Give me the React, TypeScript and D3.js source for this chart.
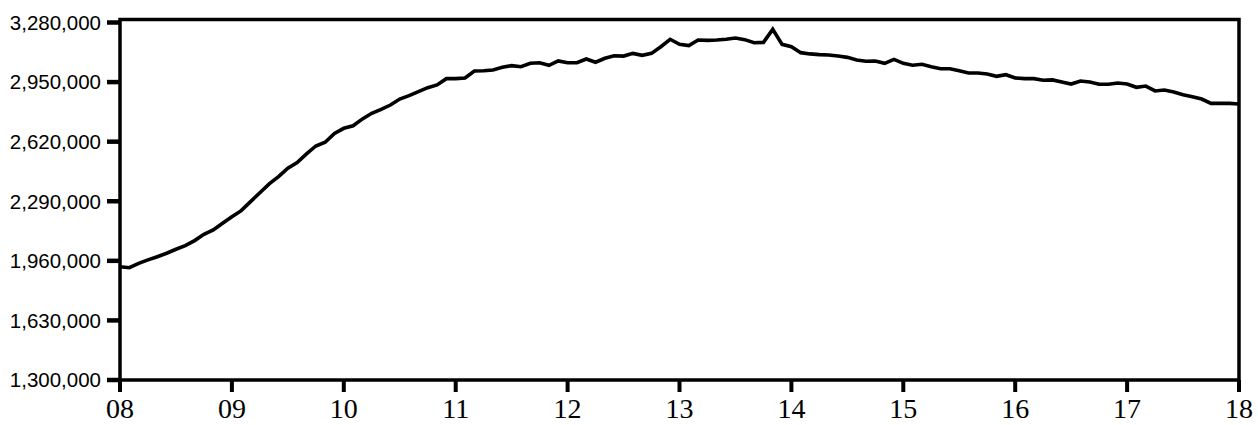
import React from "react";
import * as d3 from "d3";

// Values sampled every 5 minutes from 08:00 to 18:00
const values: number[] = [
  1927000, 1922000, 1946000, 1965000, 1983000, 2002000, 2024000, 2044000, 2072000, 2107000,
  2131000, 2168000, 2204000, 2238000, 2288000, 2337000, 2386000, 2426000, 2473000, 2504000,
  2552000, 2596000, 2617000, 2666000, 2694000, 2708000, 2746000, 2777000, 2799000, 2823000,
  2856000, 2875000, 2897000, 2919000, 2934000, 2969000, 2969000, 2973000, 3011000, 3013000,
  3017000, 3032000, 3041000, 3035000, 3054000, 3057000, 3043000, 3067000, 3057000, 3057000,
  3078000, 3060000, 3082000, 3096000, 3094000, 3109000, 3098000, 3109000, 3146000, 3187000,
  3159000, 3152000, 3183000, 3181000, 3183000, 3187000, 3194000, 3185000, 3168000, 3170000,
  3242000, 3159000, 3146000, 3113000, 3106000, 3102000, 3100000, 3094000, 3087000, 3072000,
  3065000, 3067000, 3054000, 3076000, 3054000, 3043000, 3049000, 3035000, 3024000, 3024000,
  3013000, 3000000, 3000000, 2995000, 2982000, 2991000, 2973000, 2969000, 2969000, 2960000,
  2962000, 2950000, 2939000, 2956000, 2950000, 2938000, 2938000, 2945000, 2939000, 2921000,
  2928000, 2901000, 2906000, 2895000, 2880000, 2869000, 2856000, 2832000, 2832000, 2832000,
  2829000,
];

const stepMinutes = 5;
const xTickLabels = ["08", "09", "10", "11", "12", "13", "14", "15", "16", "17", "18"];
const yTicks = [1300000, 1630000, 1960000, 2290000, 2620000, 2950000, 3280000];

const W = 1258;
const H = 425;
const left = 120;
const right = 1239;
const top = 19.5;
const bottom = 380;

export default function App() {
  const x = d3.scaleLinear().domain([0, 600]).range([left, right]);
  const y = d3.scaleLinear().domain([1300000, 3280000]).range([bottom, 22.5]);
  const fmt = d3.format(",");

  const line = d3
    .line<number>()
    .x((_, i) => x(i * stepMinutes))
    .y((d) => y(d));

  return (
    <div style={{ position: "absolute", left: 0, top: 0 }}>
      <svg width={W} height={H} style={{ display: "block", background: "#fff" }}>
        <path d={line(values) || ""} fill="none" stroke="#000" strokeWidth={3.6} strokeLinejoin="miter" />
        <rect
          x={left}
          y={top}
          width={right - left}
          height={bottom - top}
          fill="none"
          stroke="#000"
          strokeWidth={3.5}
        />
        {yTicks.map((t) => (
          <g key={t}>
            <line x1={107} x2={left} y1={y(t)} y2={y(t)} stroke="#000" strokeWidth={4.5} />
            <text
              x={101}
              y={y(t)}
              dy="0.36em"
              textAnchor="end"
              fontFamily="'Liberation Sans', Arial, sans-serif"
              fontSize={20.5}
              fill="#000"
            >
              {fmt(t)}
            </text>
          </g>
        ))}
        {xTickLabels.map((lab, i) => (
          <g key={lab}>
            <line x1={x(i * 60)} x2={x(i * 60)} y1={bottom} y2={392} stroke="#000" strokeWidth={4} />
            <text
              x={x(i * 60)}
              y={418}
              textAnchor="middle"
              fontFamily="'Liberation Serif', 'Times New Roman', serif"
              fontSize={28}
              fill="#000"
            >
              {lab}
            </text>
          </g>
        ))}
      </svg>
    </div>
  );
}
